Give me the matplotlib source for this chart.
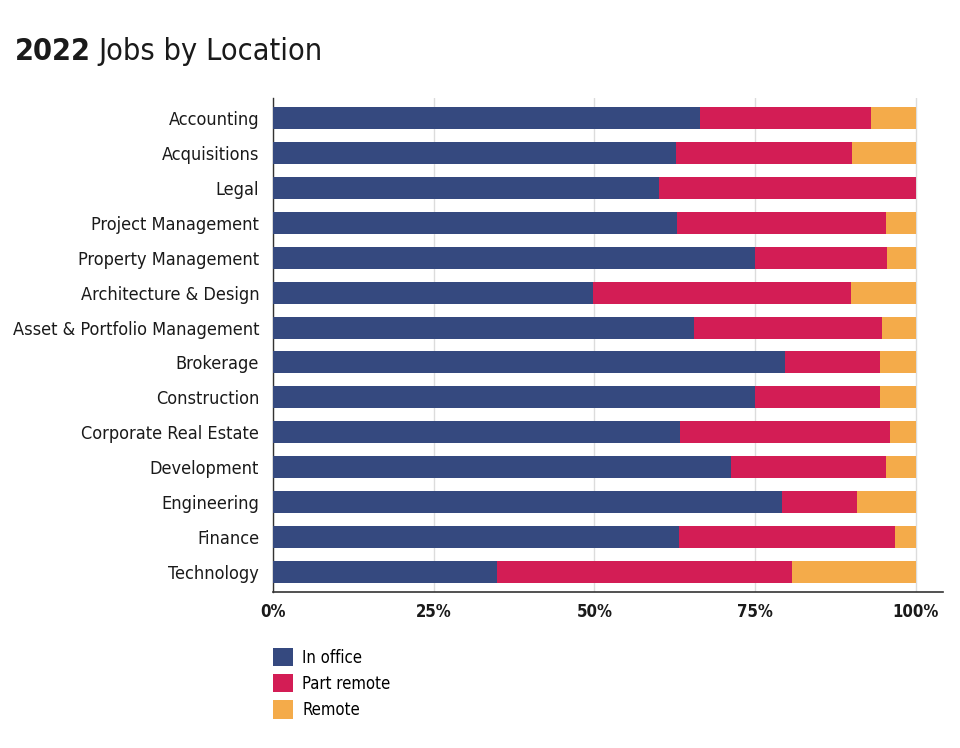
import matplotlib
matplotlib.use('Agg')
import matplotlib.pyplot as plt
from matplotlib.patches import Patch

plt.rcParams['font.family'] = ['DejaVu Sans']
plt.rcParams['font.stretch'] = 'condensed'

# data (percent)
categories = ['Accounting', 'Acquisitions', 'Legal', 'Project Management',
              'Property Management', 'Architecture & Design',
              'Asset & Portfolio Management', 'Brokerage', 'Construction',
              'Corporate Real Estate', 'Development', 'Engineering',
              'Finance', 'Technology']
in_office = [66.4, 62.7, 60.0, 62.9, 75.0, 49.8, 65.5, 79.6, 75.0, 63.4, 71.3, 79.2, 63.2, 34.9]
part_remote = [26.7, 27.4, 40.0, 32.4, 20.6, 40.1, 29.2, 14.9, 19.5, 32.6, 24.0, 11.6, 33.6, 45.9]
remote = [100 - a - b for a, b in zip(in_office, part_remote)]
series_names = ['In office', 'Part remote', 'Remote']
colors = ['#35497f', '#d31d55', '#f4ab4a']
xticks = [0, 25, 50, 75, 100]

fig = plt.figure(figsize=(9.6, 7.48), dpi=100)
ax = fig.add_axes([0.2844, 0.2086, 0.6976, 0.6604])

y = list(range(len(categories)))
left = [0] * len(categories)
for vals, c in zip([in_office, part_remote, remote], colors):
    ax.barh(y, vals, left=left, height=0.63, color=c, zorder=3)
    left = [l + v for l, v in zip(left, vals)]

ax.set_ylim(len(categories) - 1 + 0.57, -0.57)
ax.set_xlim(0, 104.2)
ax.set_yticks(y)
ax.set_yticklabels(categories, fontsize=13, color='#1a1a1a')
ax.set_xticks(xticks)
ax.set_xticklabels([f'{t}%' for t in xticks], fontsize=12, fontweight='bold', color='#1a1a1a')
ax.tick_params(axis='both', length=0)
ax.tick_params(axis='y', pad=10)
ax.tick_params(axis='x', pad=8)
ax.grid(axis='x', color='#dcdcdc', linewidth=1, zorder=0)
for s in ['top', 'right']:
    ax.spines[s].set_visible(False)
ax.spines['left'].set_color('#333333')
ax.spines['bottom'].set_color('#333333')
ax.spines['left'].set_linewidth(1)
ax.spines['bottom'].set_linewidth(1.2)

# title: bold year + regular text
t1 = fig.text(15 / 960, 1 - 60 / 748, '2022', fontsize=22, fontweight='bold', color='#1a1a1a', va='baseline')
fig.canvas.draw()
bb = t1.get_window_extent()
fig.text((bb.x1 + 7) / 960, 1 - 60 / 748, 'Jobs by Location', fontsize=22, color='#1a1a1a', va='baseline')

handles = [Patch(facecolor=c, label=n) for c, n in zip(colors, series_names)]
fig.legend(handles=handles, loc='upper left', bbox_to_anchor=(273 / 960, 1 - 648 / 748),
           frameon=False, fontsize=12, handlelength=1.2, handleheight=1.3,
           handletextpad=0.55, labelspacing=0.45, borderaxespad=0, borderpad=0)

plt.savefig('out.png', dpi=100)
plt.close()
